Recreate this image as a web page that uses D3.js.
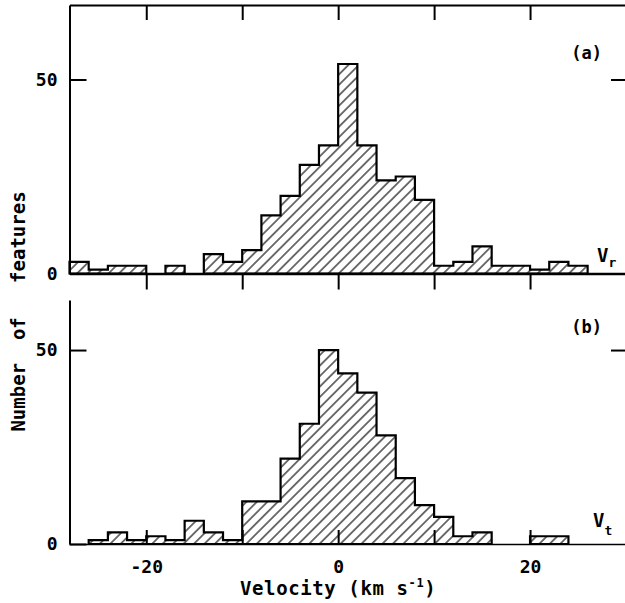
<!DOCTYPE html>
<html>
<head>
<meta charset="utf-8">
<script src="https://cdn.jsdelivr.net/npm/d3@7"></script>
<style>
body { margin: 0; background: #fff; }
text { font-family: "DejaVu Sans Mono", monospace; fill: #000; }
</style>
</head>
<body>
<div id="chart"></div>
<script>
// histogram bins: 2 km/s wide, first bin starts at -28
var binStart = -28, binWidth = 2;
// (a) radial velocities, bins -28..28
var vr = [3, 1, 2, 2, 0, 2, 0, 5, 3, 6, 15, 20, 28, 33, 54, 33, 24, 25, 19, 2, 3, 7, 2, 2, 1, 3, 2, 0];
// (b) transverse velocities, bins -28..28
var vt = [0, 1, 3, 1, 2, 1, 6, 3, 1, 11, 11, 22, 31, 50, 44, 39, 28, 17, 10, 7, 2, 3, 0, 0, 2, 2, 0, 0];
var xTicks = [-20, -10, 0, 10, 20];
var xLabels = [-20, 0, 20];
var yTicks = [0, 50];

var width = 625, height = 603;

var svg = d3.select("#chart").append("svg")
    .attr("width", width)
    .attr("height", height);

var defs = svg.append("defs");
defs.append("pattern")
    .attr("id", "hatch")
    .attr("patternUnits", "userSpaceOnUse")
    .attr("width", 7.4)
    .attr("height", 7.4)
    .attr("patternTransform", "rotate(45)")
    .append("line")
    .attr("x1", 3.7).attr("y1", 0)
    .attr("x2", 3.7).attr("y2", 7.4)
    .attr("stroke", "#000")
    .attr("stroke-width", 1.1);

var x = d3.scaleLinear().domain([-28, 30]).range([69.5, 626]);

var panels = [
    {values: vr, top: 5, bottom: 273.5, max: 69.2, tag: "(a)", tagY: 59,
     sub: "r", symX: 597, symY: 262, subY: 267, frame: true},
    {values: vt, top: 300, bottom: 544, max: 62.9, tag: "(b)", tagY: 333,
     sub: "t", symX: 593, symY: 527, subY: 535, frame: false}
];

// split a series into runs of consecutive non-empty bins
function runs(values) {
    var out = [], cur = null;
    values.forEach(function (v, i) {
        if (v > 0) {
            if (!cur) { cur = []; out.push(cur); }
            cur.push([binStart + i * binWidth, v]);
        } else {
            cur = null;
        }
    });
    out.forEach(function (r) {
        var last = r[r.length - 1];
        r.push([last[0] + binWidth, last[1]]);
    });
    return out;
}

function styleAxis(g, w) {
    g.selectAll(".domain").attr("stroke", "#000").attr("stroke-width", w);
    g.selectAll(".tick line").attr("stroke", "#000").attr("stroke-width", 2);
    g.selectAll(".tick text")
        .style("font-family", "DejaVu Sans Mono")
        .style("font-weight", "bold")
        .style("font-size", "18px")
        .attr("fill", "#000");
}

panels.forEach(function (p, pi) {
    var y = d3.scaleLinear().domain([0, p.max]).range([p.bottom, p.top]);

    var area = d3.area()
        .curve(d3.curveStepAfter)
        .x(function (d) { return x(d[0]); })
        .y0(y(0))
        .y1(function (d) { return y(d[1]); });

    svg.append("g").selectAll("path")
        .data(runs(p.values))
        .enter().append("path")
        .attr("d", area)
        .attr("fill", "url(#hatch)")
        .attr("stroke", "#000")
        .attr("stroke-width", 2.2)
        .attr("stroke-linejoin", "miter");

    // left axis with inward ticks
    var gl = svg.append("g")
        .attr("transform", "translate(" + x.range()[0] + ",0)")
        .call(d3.axisLeft(y).tickValues(yTicks).tickSize(-17).tickSizeOuter(0).tickPadding(12));
    styleAxis(gl, 2);

    // right axis (just off the picture edge), inward tick at 50
    var gr = svg.append("g")
        .attr("transform", "translate(" + x.range()[1] + ",0)")
        .call(d3.axisRight(y).tickValues([50]).tickSize(-15).tickSizeOuter(0).tickFormat(""));
    styleAxis(gr, 2);

    if (p.frame) {
        var gt = svg.append("g")
            .attr("transform", "translate(0," + p.top + ")")
            .call(d3.axisTop(x).tickValues(xTicks).tickSize(-15).tickSizeOuter(0).tickFormat(""));
        styleAxis(gt, 2);
        var gb = svg.append("g")
            .attr("transform", "translate(0," + p.bottom + ")")
            .call(d3.axisBottom(x).tickValues(xTicks).tickSize(16).tickSizeOuter(0).tickFormat(""));
        styleAxis(gb, 2.4);
    } else {
        var gx = svg.append("g")
            .attr("transform", "translate(0," + p.bottom + ")")
            .call(d3.axisBottom(x).tickValues(xTicks).tickSize(-14).tickSizeOuter(0).tickPadding(16)
                .tickFormat(function (d) {
                    if (xLabels.indexOf(d) < 0) return "";
                    return d < 0 ? "-" + Math.abs(d) : d;
                }));
        styleAxis(gx, 1.3);
    }

    svg.append("text")
        .attr("x", 602)
        .attr("y", p.tagY)
        .attr("text-anchor", "end")
        .style("font-size", "17px")
        .style("font-weight", "bold")
        .text(p.tag);

    var sym = svg.append("text")
        .attr("x", p.symX)
        .attr("y", p.symY)
        .style("font-size", "19px")
        .style("font-weight", "bold");
    sym.append("tspan").text("V");
    sym.append("tspan")
        .attr("dy", p.subY - p.symY)
        .style("font-size", "13px")
        .text(p.sub);
});

svg.append("text")
    .attr("transform", "translate(25,311.5) rotate(-90)")
    .attr("text-anchor", "middle")
    .attr("xml:space", "preserve")
    .style("white-space", "pre")
    .style("font-size", "19px")
    .style("font-weight", "bold")
    .text("Number  of   features");

var xl = svg.append("text")
    .attr("x", x(0))
    .attr("y", 595)
    .attr("text-anchor", "middle")
    .style("font-size", "19px")
    .style("font-weight", "bold")
    .style("letter-spacing", "0.6px")
    .attr("xml:space", "preserve")
    .style("white-space", "pre");
xl.append("tspan").text("Velocity (km s");
xl.append("tspan").attr("dy", -8).style("font-size", "12px").text("-1");
xl.append("tspan").attr("dy", 8).text(")");
</script>
</body>
</html>
